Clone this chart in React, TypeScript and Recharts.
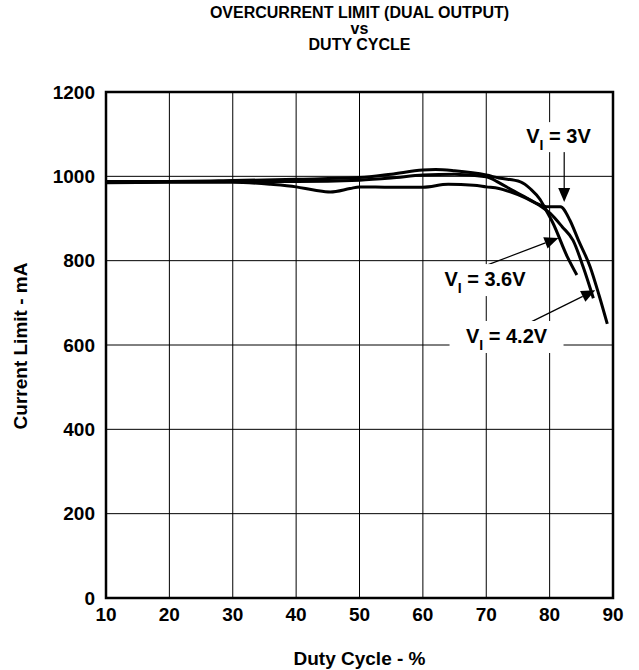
import React from 'react';
import {
  LineChart,
  Line,
  XAxis,
  YAxis,
  CartesianGrid,
  ReferenceArea,
  ReferenceLine,
  ReferenceDot,
} from 'recharts';

// ---- data ----
const xTicks = [10, 20, 30, 40, 50, 60, 70, 80, 90];
const yTicks = [0, 200, 400, 600, 800, 1000, 1200];

const duty36 = [10, 20, 30, 40, 50, 55, 60, 62, 65, 70, 72, 75.4, 77, 78.5, 79.5, 80.5, 82.8, 84.3];
const limit36 = [988, 988, 990, 993, 997, 1005, 1015, 1016, 1013, 1003, 996, 987, 970, 945, 918, 890, 809, 766];

const duty42 = [15, 20, 30, 40, 50, 55, 60, 65, 70, 72, 74, 76, 78.5, 80.1, 82, 83.7, 85.3, 86.9];
const limit42 = [986, 987, 988, 988, 991, 996, 1003, 1005, 999, 985, 968, 952, 930, 912, 880, 848, 785, 711];

const duty3 = [10, 20, 30, 36, 40, 43, 45.4, 48.5, 50, 55, 60, 64, 68, 70, 72, 73.8, 76, 78.5, 79.5, 81.7, 83.2, 84.5, 86.4, 87.8, 89.1];
const limit3 = [985, 986, 986, 981, 975, 967, 963, 971, 975, 974, 974, 981, 979, 975, 971, 963, 950, 932, 928, 928, 896, 850, 785, 718, 650];

const zip = (xs: number[], ys: number[]) => xs.map((x, i) => ({ x, y: ys[i] }));
const series36 = zip(duty36, limit36);
const series42 = zip(duty42, limit42);
const series3 = zip(duty3, limit3);

// annotation labels (data coords)
const labels = [
  { text: ' = 3V', x: 81.4, y: 1093, w: 84, h: 30 },
  { text: ' = 3.6V', x: 69.8, y: 754, w: 96, h: 32 },
  { text: ' = 4.2V', x: 73.2, y: 619, w: 114, h: 32 },
];
const arrows = [
  { x1: 82.3, y1: 1067, x2: 82.3, y2: 939 },
  { x1: 70.2, y1: 790, x2: 81.4, y2: 854 },
  { x1: 75.1, y1: 640, x2: 87.2, y2: 730 },
];

const FONT = '"Liberation Sans", Arial, Helvetica, sans-serif';

const ArrowShape = (p: any) => {
  const { x1, y1, x2, y2 } = p;
  if ([x1, y1, x2, y2].some((v) => typeof v !== 'number' || isNaN(v))) return null;
  const dx = x2 - x1;
  const dy = y2 - y1;
  const len = Math.sqrt(dx * dx + dy * dy) || 1;
  const ux = dx / len;
  const uy = dy / len;
  const hl = 14;
  const hw = 6;
  const bx = x2 - ux * hl;
  const by = y2 - uy * hl;
  const pts = `${x2},${y2} ${bx - uy * hw},${by + ux * hw} ${bx + uy * hw},${by - ux * hw}`;
  return (
    <g>
      <line x1={x1} y1={y1} x2={bx} y2={by} stroke="#000" strokeWidth={1.2} />
      <polygon points={pts} fill="#000" />
    </g>
  );
};

const makeLabel = (text: string, w: number, h: number) => (p: any) => {
  const { cx, cy } = p;
  if (typeof cx !== 'number' || typeof cy !== 'number') return null;
  return (
    <g>
      <rect x={cx - w / 2} y={cy - h / 2} width={w} height={h} fill="#fff" />
      <text
        x={cx}
        y={cy + 6}
        textAnchor="middle"
        fontFamily={FONT}
        fontWeight="bold"
        fontSize={20}
        fill="#000"
      >
        <tspan>V</tspan>
        <tspan dy={7} fontSize={14}>I</tspan>
        <tspan dy={-7}>{text}</tspan>
      </text>
    </g>
  );
};

export default function App() {
  return (
    <div
      style={{
        position: 'absolute',
        left: 0,
        top: 0,
        width: 639,
        height: 670,
        background: '#fff',
        fontFamily: FONT,
      }}
    >
      <div
        style={{
          position: 'absolute',
          left: 0,
          width: 719,
          top: 5,
          textAlign: 'center',
          fontWeight: 'bold',
          fontSize: 16,
          lineHeight: '16px',
        }}
      >
        <div>OVERCURRENT LIMIT (DUAL OUTPUT)</div>
        <div>vs</div>
        <div>DUTY CYCLE</div>
      </div>
      <LineChart
        width={639}
        height={670}
        margin={{ top: 92, right: 26, bottom: 0, left: 0 }}
      >
        <CartesianGrid stroke="#000" strokeWidth={1} />
        <XAxis
          type="number"
          dataKey="x"
          domain={[10, 90]}
          ticks={xTicks}
          allowDataOverflow
          height={72}
          tickLine={false}
          axisLine={false}
          tickSize={6}
          tickMargin={4}
          tick={{ fill: '#000', fontSize: 19, fontWeight: 'bold', fontFamily: FONT }}
        />
        <YAxis
          type="number"
          domain={[0, 1200]}
          ticks={yTicks}
          width={106}
          tickLine={false}
          axisLine={false}
          tickSize={6}
          tickMargin={5}
          tick={{ fill: '#000', fontSize: 19, fontWeight: 'bold', fontFamily: FONT }}
        />
        {labels.map((l, i) => (
          <ReferenceDot
            key={'lab' + i}
            x={l.x}
            y={l.y}
            r={1}
            ifOverflow="visible"
            shape={makeLabel(l.text, l.w, l.h)}
          />
        ))}
        <ReferenceArea
          x1={10}
          x2={90}
          y1={0}
          y2={1200}
          fill="none"
          fillOpacity={0}
          stroke="#000"
          strokeWidth={2.5}
          ifOverflow="visible"
        />
        <Line data={series3} dataKey="y" stroke="#000" strokeWidth={3} dot={false} type="monotone" isAnimationActive={false} />
        <Line data={series42} dataKey="y" stroke="#000" strokeWidth={3} dot={false} type="monotone" isAnimationActive={false} />
        <Line data={series36} dataKey="y" stroke="#000" strokeWidth={3} dot={false} type="monotone" isAnimationActive={false} />
        {arrows.map((a, i) => (
          <ReferenceLine
            key={'arr' + i}
            segment={[
              { x: a.x1, y: a.y1 },
              { x: a.x2, y: a.y2 },
            ]}
            ifOverflow="visible"
            stroke="#000"
            shape={ArrowShape}
          />
        ))}
      </LineChart>
      <div
        style={{
          position: 'absolute',
          left: 0,
          width: 719,
          top: 648,
          textAlign: 'center',
          fontWeight: 'bold',
          fontSize: 19,
          lineHeight: '22px',
        }}
      >
        Duty Cycle - %
      </div>
      <div
        style={{
          position: 'absolute',
          left: 21,
          top: 346,
          transform: 'translate(-50%, -50%) rotate(-90deg)',
          whiteSpace: 'nowrap',
          fontWeight: 'bold',
          fontSize: 19,
          lineHeight: '22px',
        }}
      >
        Current Limit - mA
      </div>
    </div>
  );
}
